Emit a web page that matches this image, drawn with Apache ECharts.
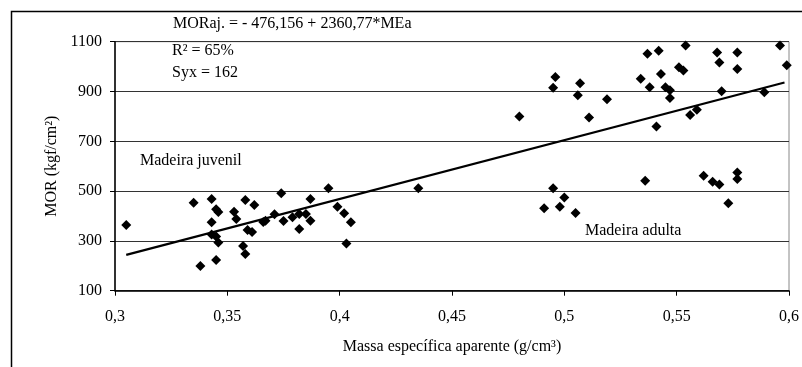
<!DOCTYPE html>
<html>
<head>
<meta charset="utf-8">
<script src="https://cdn.jsdelivr.net/npm/echarts@6/dist/echarts.min.js"></script>
<style>
  html, body { margin: 0; padding: 0; background: #fff; }
  #main { width: 802px; height: 367px; }
</style>
</head>
<body>
<div id="main"></div>
<script>
// massa específica aparente (g/cm³) e MOR (kgf/cm²)
var masX = [
  0.305, 0.335, 0.343, 0.345, 0.346, 0.343, 0.343, 0.345, 0.346, 0.345, 0.338,
  0.353, 0.354, 0.358, 0.362, 0.357, 0.358, 0.359, 0.361, 0.366, 0.367, 0.371,
  0.374, 0.375, 0.379, 0.382, 0.385, 0.382, 0.387, 0.387, 0.395, 0.399, 0.402,
  0.405, 0.403, 0.435,
  0.480, 0.496, 0.495, 0.507, 0.506, 0.511, 0.519,
  0.537, 0.542, 0.554, 0.534, 0.538, 0.543, 0.551, 0.553, 0.545, 0.547, 0.547,
  0.541, 0.556, 0.559, 0.568, 0.569, 0.570, 0.577, 0.577, 0.589, 0.596, 0.599,
  0.495, 0.500, 0.498, 0.491, 0.505,
  0.536, 0.562, 0.566, 0.569, 0.577, 0.577, 0.573
];
var morY = [
  364, 453, 468, 427, 416, 375, 326, 318, 294, 223, 199,
  417, 388, 464, 444, 280, 247, 344, 336, 376, 381, 407,
  491, 380, 395, 408, 408, 348, 381, 468, 511, 437, 411,
  375, 290, 511,
  800, 958, 915, 933, 885, 796, 869,
  1052, 1064, 1085, 951, 917, 970, 997, 984, 917, 905, 874,
  759, 806, 827, 1057, 1016, 901, 1057, 990, 897, 1085, 1005,
  511, 474, 437, 431, 412,
  542, 562, 538, 527, 575, 549, 451
];

// reta ajustada (extremos)
var retaX = [0.305, 0.598];
var retaY = [244, 936];

var xTicks = { min: 0.3, max: 0.6, step: 0.05 };
var yTicks = { min: 100, max: 1100, step: 200 };

var pontos = masX.map(function (x, i) { return [x, morY[i]]; });
var reta = retaX.map(function (x, i) { return [x, retaY[i]]; });

var fonte = '"Liberation Serif", "Times New Roman", serif';

var myChart = echarts.init(document.getElementById('main'));

var option = {
  animation: false,
  backgroundColor: '#fff',
  textStyle: { fontFamily: fonte },
  grid: {
    left: 115,
    top: 41.7,
    right: 8,
    bottom: 76.3,
    show: true,
    borderColor: '#888',
    borderWidth: 1
  },
  xAxis: {
    type: 'value',
    min: xTicks.min,
    max: xTicks.max,
    interval: xTicks.step,
    name: 'Massa específica aparente (g/cm³)',
    nameLocation: 'middle',
    nameGap: 48,
    nameTextStyle: { color: '#000', fontSize: 16, fontFamily: fonte },
    axisLine: { onZero: false, lineStyle: { color: '#000', width: 1.5 } },
    axisTick: { show: true, length: 5, lineStyle: { color: '#000' } },
    axisLabel: {
      color: '#000',
      fontSize: 16,
      fontFamily: fonte,
      margin: 18,
      formatter: function (v) { return String(+v.toFixed(2)).replace('.', ','); }
    },
    splitLine: { show: false }
  },
  yAxis: {
    type: 'value',
    min: yTicks.min,
    max: yTicks.max,
    interval: yTicks.step,
    name: 'MOR (kgf/cm²)',
    nameLocation: 'middle',
    nameGap: 52,
    nameTextStyle: { color: '#000', fontSize: 16, fontFamily: fonte },
    axisLine: { show: true, lineStyle: { color: '#000', width: 1.5 } },
    axisTick: { show: true, length: 5, lineStyle: { color: '#000' } },
    axisLabel: {
      color: '#000',
      fontSize: 16,
      fontFamily: fonte,
      margin: 13,
      formatter: function (v) { return String(v); }
    },
    splitLine: { show: true, lineStyle: { color: '#333', width: 1 } }
  },
  series: [{
    name: 'MOR',
    type: 'scatter',
    symbol: 'diamond',
    symbolSize: 10,
    itemStyle: { color: '#000', opacity: 1 },
    data: pontos
  }, {
    name: 'MORaj',
    type: 'line',
    symbol: 'none',
    lineStyle: { color: '#000', width: 2.2 },
    data: reta
  }],
  graphic: [{
    type: 'rect',
    silent: true,
    shape: { x: 11.5, y: 11.5, width: 900, height: 500 },
    style: { fill: 'none', stroke: '#000', lineWidth: 1.5 }
  }, {
    type: 'text', left: 173, top: 16,
    style: { text: 'MORaj. = - 476,156 + 2360,77*MEa', font: '16px ' + fonte, fill: '#000' }
  }, {
    type: 'text', left: 172, top: 43,
    style: { text: 'R² = 65%', font: '16px ' + fonte, fill: '#000' }
  }, {
    type: 'text', left: 172, top: 65,
    style: { text: 'Syx = 162', font: '16px ' + fonte, fill: '#000' }
  }, {
    type: 'text', left: 140, top: 153,
    style: { text: 'Madeira juvenil', font: '16px ' + fonte, fill: '#000' }
  }, {
    type: 'text', left: 585, top: 223,
    style: { text: 'Madeira adulta', font: '16px ' + fonte, fill: '#000' }
  }]
};

myChart.setOption(option);
</script>
</body>
</html>
